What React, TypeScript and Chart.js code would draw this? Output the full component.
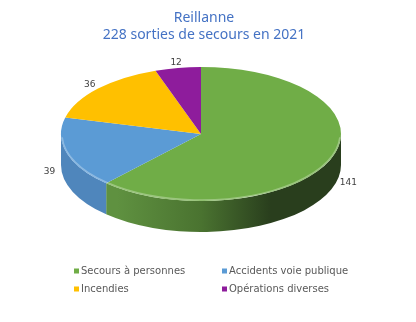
import React, { useEffect, useRef } from "react";
import { Chart, registerables } from "chart.js";

Chart.register(...registerables);

const titleLines = ["Reillanne", "228 sorties de secours en 2021"];
const categories = ["Secours à personnes", "Accidents voie publique", "Incendies", "Opérations diverses"];
const values = [141, 39, 36, 12];
const topColors = ["#70AD47", "#5B9BD5", "#FFC000", "#8E1C9C"];
const sideLight = ["#5F9140", "#4F86BC", "#D9A300", "#781683"];
const sideMid = ["#4A7330", "#4479AD", "#BF8F00", "#5E1066"];
const sideDark = ["#293E1D", "#3B6891", "#A67C00", "#4E0E55"];

const CX = 201;
const CY = 134;
const RX = 140;
const RY = 67;
const DEPTH = 31;

const pie3d = {
  id: "pie3d",
  beforeDatasetsDraw(chart: any) {
    const ctx = chart.ctx;
    const meta = chart.getDatasetMeta(0);
    const arcs = meta.data;
    arcs.forEach((arc: any, i: number) => {
      const a = Math.max(arc.startAngle, 0);
      const b = Math.min(arc.endAngle, Math.PI);
      if (a >= b) return;
      const g = ctx.createLinearGradient(CX - RX, 0, CX + RX, 0);
      g.addColorStop(0, sideLight[i]);
      g.addColorStop(0.2, sideLight[i]);
      g.addColorStop(0.5, sideMid[i]);
      g.addColorStop(0.75, sideDark[i]);
      g.addColorStop(1, sideDark[i]);
      ctx.save();
      ctx.beginPath();
      ctx.ellipse(CX, CY, RX, RY, 0, a, b, false);
      ctx.lineTo(CX + RX * Math.cos(b), CY + RY * Math.sin(b) + DEPTH);
      ctx.ellipse(CX, CY + DEPTH, RX, RY, 0, b, a, true);
      ctx.closePath();
      ctx.fillStyle = g;
      ctx.fill();
      ctx.restore();
    });
    const a0 = arcs[0];
    const r = a0.outerRadius;
    ctx.save();
    ctx.translate(CX, CY);
    ctx.scale(RX / r, RY / r);
    ctx.translate(-a0.x, -a0.y);
  },
  afterDatasetsDraw(chart: any) {
    const ctx = chart.ctx;
    ctx.restore();
    const meta = chart.getDatasetMeta(0);
    meta.data.forEach((arc: any) => {
      const a = Math.max(arc.startAngle, 0.05);
      const b = Math.min(arc.endAngle, Math.PI - 0.05);
      if (a >= b) return;
      ctx.save();
      ctx.beginPath();
      ctx.ellipse(CX, CY, RX - 1, RY - 1, 0, a, b, false);
      ctx.strokeStyle = "rgba(255,255,255,0.3)";
      ctx.lineWidth = 1.5;
      ctx.stroke();
      ctx.restore();
    });
    ctx.save();
    ctx.font = "9px 'DejaVu Sans'";
    ctx.fillStyle = "#404040";
    ctx.textAlign = "center";
    ctx.textBaseline = "middle";
    meta.data.forEach((arc: any, i: number) => {
      const m = (arc.startAngle + arc.endAngle) / 2;
      const c = Math.cos(m);
      const sn = Math.sin(m);
      const k = sn > 0 ? 1.13 : 1.08;
      const x = CX + RX * k * c;
      const y = CY + RY * k * sn + (sn > 0 ? (DEPTH + 26) * sn : 0);
      ctx.fillText(String(values[i]), x, y);
    });
    ctx.restore();
    ctx.save();
    ctx.font = "10px 'DejaVu Sans'";
    ctx.textBaseline = "middle";
    ctx.textAlign = "left";
    const colX = [74, 222];
    const rowY = [271, 289];
    categories.forEach((lab, i) => {
      const x = colX[i % 2];
      const y = rowY[Math.floor(i / 2)];
      ctx.fillStyle = topColors[i];
      ctx.fillRect(x, y - 2.5, 5, 5);
      ctx.fillStyle = "#595959";
      ctx.fillText(lab, x + 7, y);
    });
    ctx.restore();
  },
};

export default function App() {
  const ref = useRef<HTMLCanvasElement>(null);
  useEffect(() => {
    const chart = new Chart(ref.current!, {
      type: "pie",
      data: {
        labels: categories,
        datasets: [
          {
            data: values,
            backgroundColor: topColors,
            borderWidth: 0,
            clip: false as any,
          },
        ],
      },
      options: {
        animation: false,
        responsive: false,
        events: [],
        layout: { padding: { left: 52, right: 60, bottom: 40 } },
        plugins: {
          legend: { display: false },
          tooltip: { enabled: false },
          title: {
            display: true,
            text: titleLines,
            color: "#4472C4",
            font: { family: "'Noto Sans'", size: 14, weight: "normal" as any, lineHeight: 1.2 },
            padding: { top: 10, bottom: 10 },
          },
        },
      },
      plugins: [pie3d],
    });
    return () => chart.destroy();
  }, []);
  return (
    <div style={{ position: "fixed", left: 0, top: 0, width: 416, height: 322, background: "#fff" }}>
      <canvas ref={ref} width={416} height={322} />
    </div>
  );
}
